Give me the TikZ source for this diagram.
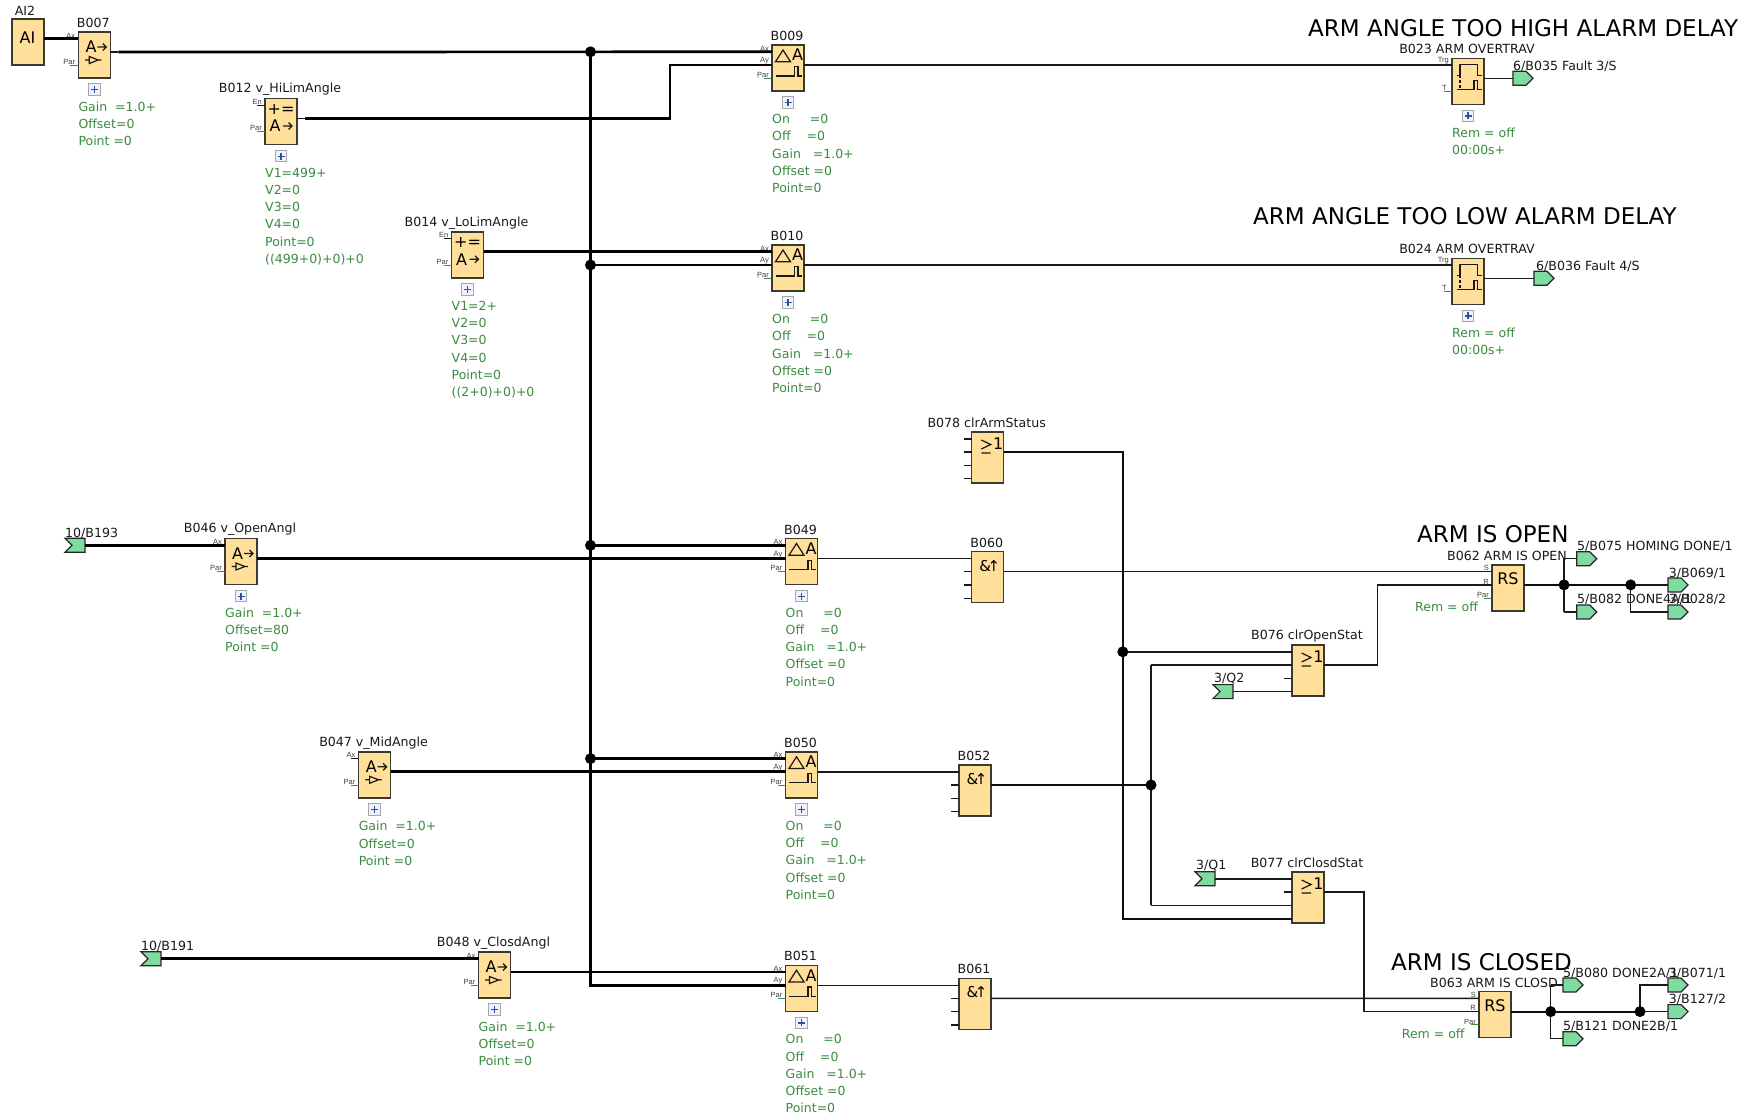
\documentclass[tikz,border=0pt]{standalone}
\usepackage{fontspec}
\setmainfont{DejaVu Sans}
\newfontfamily\pinfont{Liberation Sans}
\usetikzlibrary{calc}
\definecolor{blockfill}{HTML}{FFDF99}
\definecolor{blockedge}{HTML}{3A3A30}
\definecolor{tagfill}{HTML}{7FDCA0}
\definecolor{pargreen}{HTML}{3B8C40}
\definecolor{plusblue}{HTML}{2F4FA0}
\tikzset{
  x=1pt,y=-1pt,
  wire/.style={line width=1.4,draw=black!90},
  midw/.style={line width=1.9,draw=black!95},
  fat/.style={line width=2.7,draw=black},
  parw/.style={line width=1,draw=pargreen},
  glyph/.style={line width=1.2,draw=black!90},
  blockbox/.style={draw=blockedge,line width=1.4,fill=blockfill,anchor=north west,minimum width=32,inner sep=0,outer sep=0},
  tagbox/.style={draw=black!85,line width=1.2,fill=tagfill},
  dot/.style={circle,fill=black,inner sep=0,minimum size=11},
  lab/.style={font=\fontsize{12.6}{14}\selectfont,text=black!90,inner sep=0},
  ttl/.style={font=\fontsize{23}{26}\selectfont,text=black,inner sep=0},
  parlist/.style={font=\fontsize{12.5}{17.2}\selectfont,text=pargreen,inner sep=0,anchor=north west,align=left},
  pinl/.style={font=\pinfont\fontsize{7.5}{8}\selectfont,text=black!75,inner sep=0,anchor=south east},
  big/.style={font=\fontsize{16}{18}\selectfont,text=black,inner sep=0},
  plusbox/.style={draw=black!35,line width=1,fill=blue!5!white,minimum size=11.5,inner sep=0},
}
\newcounter{tn}
\newcommand\T[3][]{\stepcounter{tn}\node[#1] (t\arabic{tn}) at (#2) {#3};}
% block: name, left, top, height, title
\newcommand\blk[5]{%
  \node[blockbox,minimum height=#4] (#1) at (#2,#3) {};
  \coordinate (#1-1) at ([yshift=-6.8pt]#1.north west);
  \coordinate (#1-2) at ([yshift=-20pt]#1.north west);
  \coordinate (#1-3) at ([yshift=-33.3pt]#1.north west);
  \coordinate (#1-4) at ([yshift=-46.6pt]#1.north west);
  \coordinate (#1-o) at ([yshift=-20pt]#1.north east);
  \T[lab]{$(#1.north)+(-1,-9)$}{#5}}
\newcommand\pin[2]{\draw[wire] (#1) -- ++(-8,0);\T[pinl]{$(#1)+(-3,-0.6)$}{#2}}
\newcommand\parpin[1]{\draw[parw] (#1) -- ++(-8,0);\T[pinl]{$(#1)+(-3,-0.6)$}{Par}}
\newcommand\stub[1]{\draw[wire] (#1) -- ++(-8,0);}
\newcommand\plusb[1]{\stepcounter{tn}\node[plusbox] (t\arabic{tn}) at ($(#1.south)+(0,11.7)$) {};
  \draw[line width=1.2,draw=plusblue] ($(t\arabic{tn}.center)+(-3.5,0)$) -- ($(t\arabic{tn}.center)+(3.5,0)$) ($(t\arabic{tn}.center)+(0,-3.5)$) -- ($(t\arabic{tn}.center)+(0,3.5)$);}
\newcommand\plist[2]{\stepcounter{tn}\node[parlist] (t\arabic{tn}) at ($(#1.north west)+(0,69.3)$) {#2};}
\newcommand\garrow[2]{\draw[glyph] (#1,#2) -- ++(9,0) ++(-3.5,-3.5) -- ++(3.5,3.5) -- ++(-3.5,3.5);}
\newcommand\gAmp[1]{\begin{scope}[shift={(#1.north west)}]
  \T[big]{12.7,14.7}{A}\garrow{19}{15}
  \draw[glyph] (6.7,28) -- (11,28) (11,24.5) -- (11,31.5) -- (20,28) -- cycle (20,28) -- (23,28);
  \end{scope}}
\newcommand\gSet[1]{\begin{scope}[shift={(#1.north west)}]
  \T[big]{16,11}{+=}\T[big]{10,27.5}{A}\garrow{18}{27.5}
  \end{scope}}
\newcommand\gCmp[1]{\begin{scope}[shift={(#1.north west)}]
  \draw[glyph] (3.5,16.7) -- (18.5,16.7) -- (11,5) -- cycle;
  \T[big]{25.5,10}{A}
  \draw[glyph] (3.5,31) -- (22.5,31) -- (22.5,21.7) -- (26,21.7) -- (26,31) -- (30,31);
  \end{scope}}
\newcommand\gDel[1]{\begin{scope}[shift={(#1.north west)}]
  \draw[glyph] (4.7,17) -- (8,17) -- (8,6) -- (25.3,6) -- (25.3,17) -- (29.7,17);
  \draw[glyph] (4.7,31.3) -- (22,31.3) -- (22,22) -- (25.7,22) -- (25.7,31.3) -- (29.7,31.3);
  \draw[glyph,densely dashed] (8,17) -- (8,31.3);
  \end{scope}}
\newcommand\gOr[1]{\begin{scope}[shift={(#1.north west)}]
  \draw[glyph] (9.6,8) -- (19,12.5) -- (9.6,17) (9.6,21) -- (19,21);
  \T[big]{26.5,11.5}{1}
  \end{scope}}
\newcommand\gAnd[1]{\begin{scope}[shift={(#1.north west)}]
  \T[big]{18,14}{\fontsize{15}{16}\selectfont\&\kern-3.5pt↑}
  \end{scope}}
\newcommand\gRS[1]{\begin{scope}[shift={(#1.north west)}]
  \T[big]{16,13.7}{RS}
  \end{scope}}
\newcommand\tagout[3]{\coordinate (#1) at (#2,#3);
  \draw[tagbox] (#1) ++(0,-7) -- ++(13,0) -- ++(7,7) -- ++(-7,7) -- ++(-13,0) -- cycle;}
\newcommand\tagin[3]{\coordinate (#1) at (#2,#3);
  \draw[tagbox] (#1) ++(0,-7) -- ++(-20,0) -- ++(7,7) -- ++(-7,7) -- ++(20,0) -- cycle;}
\begin{document}
\begin{tikzpicture}
\useasboundingbox (0,0) rectangle (1757,1119);
\fill[white] (0,0) rectangle (1757,1119);
% titles
\T[ttl,anchor=west]{1308,28}{ARM ANGLE TOO HIGH ALARM DELAY}
\T[ttl,anchor=west]{1253,216}{ARM ANGLE TOO LOW ALARM DELAY}
\T[ttl,anchor=west]{1417,534}{ARM IS OPEN}
\T[ttl,anchor=west]{1391,962}{ARM IS CLOSED}
% blocks
\node[blockbox,minimum height=46] (AI) at (12,18.8) {};
\coordinate (AI-o) at ([yshift=-20pt]AI.north east);
\T[big]{27.5,37.5}{AI}
\T[lab]{25,10.7}{AI2}
\blk{B007}{78.3}{32}{46}{B007}\gAmp{B007}
\blk{B012}{265}{98.5}{46}{B012 v\_HiLimAngle}\gSet{B012}
\blk{B014}{451.5}{231.8}{46}{B014 v\_LoLimAngle}\gSet{B014}
\blk{B009}{772}{45}{46}{B009}\gCmp{B009}
\blk{B010}{772}{245}{46}{B010}\gCmp{B010}
\blk{B023}{1452}{58.2}{46}{B023 ARM OVERTRAV}\gDel{B023}
\blk{B024}{1452}{258.2}{46}{B024 ARM OVERTRAV}\gDel{B024}
\blk{B046}{225}{538.5}{46}{B046 v\_OpenAngl}\gAmp{B046}
\blk{B047}{358.6}{751.8}{46}{B047 v\_MidAngle}\gAmp{B047}
\blk{B048}{478.5}{952}{46}{B048 v\_ClosdAngl}\gAmp{B048}
\blk{B049}{785.5}{538.5}{46}{B049}\gCmp{B049}
\blk{B050}{785.5}{751.8}{46}{B050}\gCmp{B050}
\blk{B051}{785.5}{965.2}{46}{B051}\gCmp{B051}
\blk{B078}{971.7}{432}{51}{B078 clrArmStatus}\gOr{B078}
\blk{B060}{971.7}{551.7}{51}{B060}\gAnd{B060}
\blk{B052}{959}{765}{51}{B052}\gAnd{B052}
\blk{B061}{959}{978.4}{51}{B061}\gAnd{B061}
\blk{B076}{1292}{645}{51}{B076 clrOpenStat}\gOr{B076}
\blk{B077}{1292}{872}{51}{B077 clrClosdStat}\gOr{B077}
\blk{B062}{1492}{564.9}{46}{B062 ARM IS OPEN}\gRS{B062}
\blk{B063}{1479}{991.6}{46}{B063 ARM IS CLOSD}\gRS{B063}
% pins
\pin{B007-1}{Ax}\parpin{B007-3}
\pin{B012-1}{En}\parpin{B012-3}
\pin{B014-1}{En}\parpin{B014-3}
\foreach \b in {B009,B010,B049,B050,B051}{\pin{\b-1}{Ax}\pin{\b-2}{Ay}\parpin{\b-3}}
\foreach \b in {B046,B047,B048}{\pin{\b-1}{Ax}\parpin{\b-3}}
\foreach \b in {B023,B024}{\pin{\b-1}{Trg}\draw[parw] (\b-3) -- ++(-8,0);\T[pinl]{$(\b-3)+(-5,-0.6)$}{T}}
\foreach \b in {B062,B063}{\pin{\b-1}{S}\pin{\b-2}{R}\parpin{\b-3}}
\foreach \b in {B078,B060,B052,B061,B076,B077}{\stub{\b-1}\stub{\b-2}\stub{\b-3}\stub{\b-4}}
% tags
\tagin{T193}{85}{545.3}
\tagin{T191}{161}{958.8}
\tagin{TQ2}{1233}{691.6}
\tagin{TQ1}{1215}{878.8}
\tagout{T035}{1513}{78.2}
\tagout{T036}{1534}{278.2}
\tagout{T075}{1576.7}{558.7}
\tagout{T082}{1576.7}{612}
\tagout{T069}{1668}{584.9}
\tagout{T028}{1668}{612}
\tagout{T080}{1563}{985}
\tagout{T121}{1563}{1038.7}
\tagout{T071}{1668}{985}
\tagout{T127}{1668}{1011.6}
% routing points
\coordinate (busx) at (590.5,0);
\coordinate (hix) at (670,0);
\coordinate (armx) at (1122.8,0);
\coordinate (midx) at (1151,0);
\coordinate (opx) at (1377.7,0);
\coordinate (clx) at (1364,0);
\coordinate (j1x) at (1564,0);
\coordinate (j2x) at (1630.7,0);
\coordinate (j3x) at (1550.7,0);
\coordinate (j4x) at (1640,0);
% junction positions
\coordinate (jA) at (busx |- B009-1);
\coordinate (jB) at (busx |- B010-2);
\coordinate (jC) at (busx |- B049-1);
\coordinate (jD) at (busx |- B050-1);
\coordinate (jE) at (armx |- B076-1);
\coordinate (jF) at (midx |- B052-o);
\coordinate (jG) at (j1x |- B062-o);
\coordinate (jH) at (j2x |- B062-o);
\coordinate (jI) at (j3x |- B063-o);
\coordinate (jJ) at (j4x |- B063-o);
% fat wires
\draw[fat] (AI-o) -- (B007-1);
\draw[wire] (B007-o) -- ++(8,0);
\draw[fat,shorten <=8pt] (B007-o) -- (B009-1);
\draw[wire] (B012-o) -- ++(8,0);
\draw[fat,shorten <=8pt] (B012-o) -- (hix |- B012-o) -- (hix |- B009-2) -- (B009-2);
\draw[fat] (jA) -- (busx |- B051-2) -- (B051-2);
\draw[fat] (B014-o) -- (B010-1);
\draw[fat] (jB) -- (B010-2);
\draw[fat] (jC) -- (B049-1);
\draw[fat] (B046-o) -- (B049-2);
\draw[fat] (jD) -- (B050-1);
\draw[fat] (B047-o) -- (B050-2);
\draw[fat] (B048-o) -- (B051-1);
\draw[fat] (T193) -- (B046-1);
\draw[fat] (T191) -- (B048-1);
% thin wires
\draw[wire] (B009-o) -- (B023-1);
\draw[wire] (B010-o) -- (B024-1);
\draw[wire] (B023-o) -- (T035);
\draw[wire] (B024-o) -- (T036);
\draw[wire] (B049-o) -- (B060-1);
\draw[wire] (B050-o) -- (B052-1);
\draw[wire] (B051-o) -- (B061-1);
\draw[wire] (B060-o) -- (B062-1);
\draw[wire] (B061-o) -- (B063-1);
\draw[midw] (B052-o) -- (jF);
\draw[midw] (B078-o) -- (armx |- B078-o) -- (armx |- B077-4) -- (B077-4);
\draw[wire] (jE) -- (B076-1);
\draw[wire] (midx |- B076-2) -- (midx |- B077-3);
\draw[wire] (midx |- B076-2) -- (B076-2);
\draw[wire] (midx |- B077-3) -- (B077-3);
\draw[wire] (TQ2) -- (B076-4);
\draw[wire] (TQ1) -- (B077-1);
\draw[wire] (B076-o) -- (opx |- B076-o) -- (opx |- B062-2) -- (B062-2);
\draw[wire] (B077-o) -- (clx |- B077-o) -- (clx |- B063-2) -- (B063-2);
\draw[midw] (B062-o) -- (jH);
\draw[wire] (jH) -- (T069);
\draw[wire] (j1x |- T075) -- (j1x |- T082);
\draw[wire] (j1x |- T075) -- (T075);
\draw[wire] (j1x |- T082) -- (T082);
\draw[wire] (jH) -- (j2x |- T028) -- (T028);
\draw[midw] (B063-o) -- (jJ);
\draw[wire] (jJ) -- (T127);
\draw[wire] (j3x |- T080) -- (j3x |- T121);
\draw[wire] (j3x |- T080) -- (T080);
\draw[wire] (j3x |- T121) -- (T121);
\draw[wire] (jJ) -- (j4x |- T071) -- (T071);
% junction dots
\foreach \j in {jA,jB,jC,jD,jE,jF,jG,jH,jI,jJ}{\node[dot] (n\j) at (\j) {};}
% plus boxes
\foreach \b in {B007,B012,B014,B009,B010,B023,B024,B046,B047,B048,B049,B050,B051}{\plusb{\b}}
% parameters
\plist{B007}{Gain~~=1.0+\\Offset=0\\Point~=0}
\plist{B046}{Gain~~=1.0+\\Offset=80\\Point~=0}
\plist{B047}{Gain~~=1.0+\\Offset=0\\Point~=0}
\plist{B048}{Gain~~=1.0+\\Offset=0\\Point~=0}
\plist{B012}{V1=499+\\V2=0\\V3=0\\V4=0\\Point=0\\((499+0)+0)+0}
\plist{B014}{V1=2+\\V2=0\\V3=0\\V4=0\\Point=0\\((2+0)+0)+0}
\foreach \b in {B009,B010,B049,B050,B051}{\plist{\b}{On~~~~~=0\\Off~~~~=0\\Gain~~~=1.0+\\Offset~=0\\Point=0}}
\foreach \b in {B023,B024}{\plist{\b}{Rem = off\\00:00s+}}
\T[parlist,anchor=west]{1415,607.3}{Rem = off}
\T[parlist,anchor=west]{1401.7,1034}{Rem = off}
% tag labels
\T[lab,anchor=west]{1513,66}{6/B035 Fault 3/S}
\T[lab,anchor=west]{1536,266}{6/B036 Fault 4/S}
\T[lab,anchor=west]{1577,546}{5/B075 HOMING DONE/1}
\T[lab,anchor=west]{1668.7,573}{3/B069/1}
\T[lab,anchor=west]{1577,599.5}{5/B082 DONE4A/1}
\T[lab,anchor=west]{1668.7,599.5}{3/B028/2}
\T[lab,anchor=west]{1563,973}{5/B080 DONE2A/1}
\T[lab,anchor=west]{1668.7,973}{3/B071/1}
\T[lab,anchor=west]{1668.7,999.5}{3/B127/2}
\T[lab,anchor=west]{1563,1026}{5/B121 DONE2B/1}
\T[lab,anchor=west]{1214,679}{3/Q2}
\T[lab,anchor=west]{1196,866}{3/Q1}
\T[lab,anchor=west]{65,533}{10/B193}
\T[lab,anchor=west]{141,946}{10/B191}
\end{tikzpicture}
\end{document}
